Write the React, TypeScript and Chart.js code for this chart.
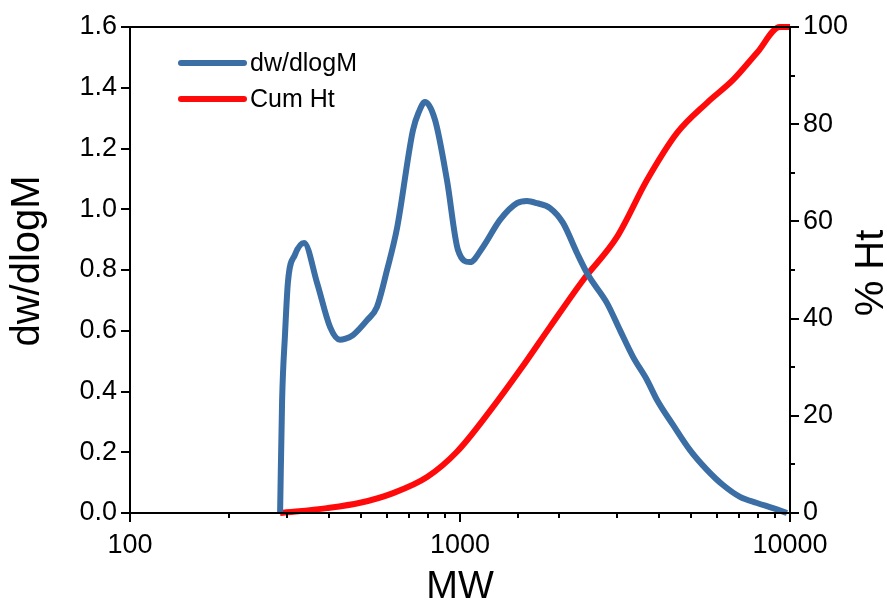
import React, { useEffect, useRef } from "react";
import { Chart, registerables } from "chart.js";

Chart.register(...registerables);

// dw/dlogM series
const dwMW = [285, 289, 295, 301, 316, 337, 369, 404, 433, 448, 474, 523, 560, 601, 645, 720, 750, 783, 840, 913, 986, 1072, 1174, 1322, 1488, 1596, 1711, 1874, 2052, 2262, 2443, 2789, 3053, 3344, 3687, 3954, 4421, 4977, 5604, 6266, 7056, 7943, 8883, 9792];
const dwValues = [0, 0.37, 0.59, 0.76, 0.85, 0.889, 0.757, 0.612, 0.57, 0.573, 0.586, 0.635, 0.678, 0.8, 0.94, 1.26, 1.32, 1.353, 1.294, 1.096, 0.866, 0.826, 0.876, 0.965, 1.02, 1.027, 1.02, 1.004, 0.955, 0.856, 0.784, 0.691, 0.602, 0.514, 0.438, 0.372, 0.29, 0.207, 0.142, 0.092, 0.053, 0.033, 0.016, 0];

// Cum Ht series
const cumMW = [285, 395, 498, 627, 795, 979, 1233, 1520, 1874, 2359, 2991, 3687, 4547, 5604, 6719, 7943, 9326, 10000];
const cumValues = [0, 1.0, 2.1, 4.1, 7.4, 12.6, 21, 29.4, 38.3, 47.9, 56.8, 68.5, 78.2, 84.4, 89.1, 94.7, 100, 100];

const seriesNames = ["dw/dlogM", "Cum Ht"];
const axisTitles = { x: "MW", y: "dw/dlogM", y1: "% Ht" };
const xRange = [100, 10000];
const yRange = [0, 1.6];
const y1Range = [0, 100];

const BLUE = "#3b6ea4";
const RED = "#ff0a0a";
const FONT = "'Liberation Sans', Arial, sans-serif";

const decorPlugin = {
  id: "decor",
  afterDraw(chart: any) {
    const ctx = chart.ctx;
    const a = chart.chartArea;
    ctx.save();
    ctx.strokeStyle = "#000";
    ctx.lineWidth = 2;
    ctx.strokeRect(a.left, a.top, a.right - a.left, a.bottom - a.top);

    // ticks
    ctx.lineWidth = 2;
    const xs = chart.scales.x;
    xs.ticks.forEach((t: any) => {
      const px = Math.round(xs.getPixelForValue(t.value));
      const len = t.label ? 9 : 5;
      ctx.beginPath();
      ctx.moveTo(px, a.bottom);
      ctx.lineTo(px, a.bottom + len);
      ctx.stroke();
    });
    const ys = chart.scales.y;
    ys.ticks.forEach((t: any) => {
      const py = Math.round(ys.getPixelForValue(t.value));
      const len = t.label ? 9 : 5;
      ctx.beginPath();
      ctx.moveTo(a.left, py);
      ctx.lineTo(a.left - len, py);
      ctx.stroke();
    });
    const y1 = chart.scales.y1;
    y1.ticks.forEach((t: any) => {
      const py = Math.round(y1.getPixelForValue(t.value));
      const len = t.label ? 9 : 5;
      ctx.beginPath();
      ctx.moveTo(a.right, py);
      ctx.lineTo(a.right + len, py);
      ctx.stroke();
    });

    // axis titles
    ctx.fillStyle = "#000";
    ctx.textAlign = "center";
    ctx.textBaseline = "middle";
    ctx.font = `38px ${FONT}`;
    ctx.fillText(axisTitles.x, (a.left + a.right) / 2, 588);

    ctx.font = `40px ${FONT}`;
    ctx.save();
    ctx.translate(28, 261);
    ctx.rotate(-Math.PI / 2);
    ctx.fillText(axisTitles.y, 0, 0);
    ctx.restore();

    ctx.save();
    ctx.translate(872, 273);
    ctx.rotate(-Math.PI / 2);
    ctx.fillText(axisTitles.y1, 0, 0);
    ctx.restore();

    // legend
    const colors = [BLUE, RED];
    ctx.lineCap = "round";
    ctx.font = `25px ${FONT}`;
    ctx.textAlign = "left";
    seriesNames.forEach((name, i) => {
      const ly = 63 + i * 36;
      ctx.strokeStyle = colors[i];
      ctx.lineWidth = 6;
      ctx.beginPath();
      ctx.moveTo(181, ly);
      ctx.lineTo(244, ly);
      ctx.stroke();
      ctx.fillStyle = "#000";
      ctx.fillText(name, 250, ly + 1);
    });
    ctx.restore();
  },
};

export default function App() {
  const ref = useRef<HTMLCanvasElement>(null);

  useEffect(() => {
    if (!ref.current) return;
    const chart = new Chart(ref.current, {
      type: "line",
      data: {
        datasets: [
          {
            label: seriesNames[0],
            data: dwMW.map((m, i) => ({ x: m, y: dwValues[i] })),
            borderColor: BLUE,
            borderWidth: 6,
            pointRadius: 0,
            cubicInterpolationMode: "monotone",
            yAxisID: "y",
            clip: false,
          } as any,
          {
            label: seriesNames[1],
            data: cumMW.map((m, i) => ({ x: m, y: cumValues[i] })),
            borderColor: RED,
            borderWidth: 6,
            pointRadius: 0,
            cubicInterpolationMode: "monotone",
            yAxisID: "y1",
            clip: false,
          } as any,
        ],
      },
      options: {
        animation: false,
        responsive: false,
        devicePixelRatio: 1,
        layout: { padding: { top: 27, left: 0, right: 0, bottom: 0 } },
        plugins: { legend: { display: false }, tooltip: { enabled: false } },
        scales: {
          x: {
            type: "logarithmic",
            min: xRange[0],
            max: xRange[1],
            grid: { display: false },
            border: { display: false },
            ticks: {
              autoSkip: false,
              maxRotation: 0,
              padding: 8,
              color: "#000",
              font: { size: 27, family: FONT },
              callback: (v: any) => {
                const l = Math.log10(Number(v));
                return Math.abs(l - Math.round(l)) < 1e-9 ? String(Number(v)) : "";
              },
            },
            afterFit: (s: any) => {
              s.height = 90;
            },
          },
          y: {
            type: "linear",
            position: "left",
            min: yRange[0],
            max: yRange[1],
            grid: { display: false },
            border: { display: false },
            ticks: {
              stepSize: 0.1,
              padding: 5,
              color: "#000",
              font: { size: 27, family: FONT },
              callback: (v: any, i: number) => (i % 2 === 0 ? Number(v).toFixed(1) : ""),
            },
            afterFit: (s: any) => {
              s.width = 130;
            },
          },
          y1: {
            type: "linear",
            position: "right",
            min: y1Range[0],
            max: y1Range[1],
            grid: { display: false },
            border: { display: false },
            ticks: {
              stepSize: 10,
              padding: 5,
              color: "#000",
              font: { size: 27, family: FONT },
              callback: (v: any, i: number) => (i % 2 === 0 ? String(Math.round(Number(v))) : ""),
            },
            afterFit: (s: any) => {
              s.width = 97;
            },
          },
        },
      } as any,
      plugins: [decorPlugin],
    });
    return () => chart.destroy();
  }, []);

  return (
    <div style={{ position: "fixed", left: 0, top: 0, width: 887, height: 603, background: "#fff" }}>
      <canvas ref={ref} width={887} height={603} style={{ width: 887, height: 603, display: "block" }} />
    </div>
  );
}
